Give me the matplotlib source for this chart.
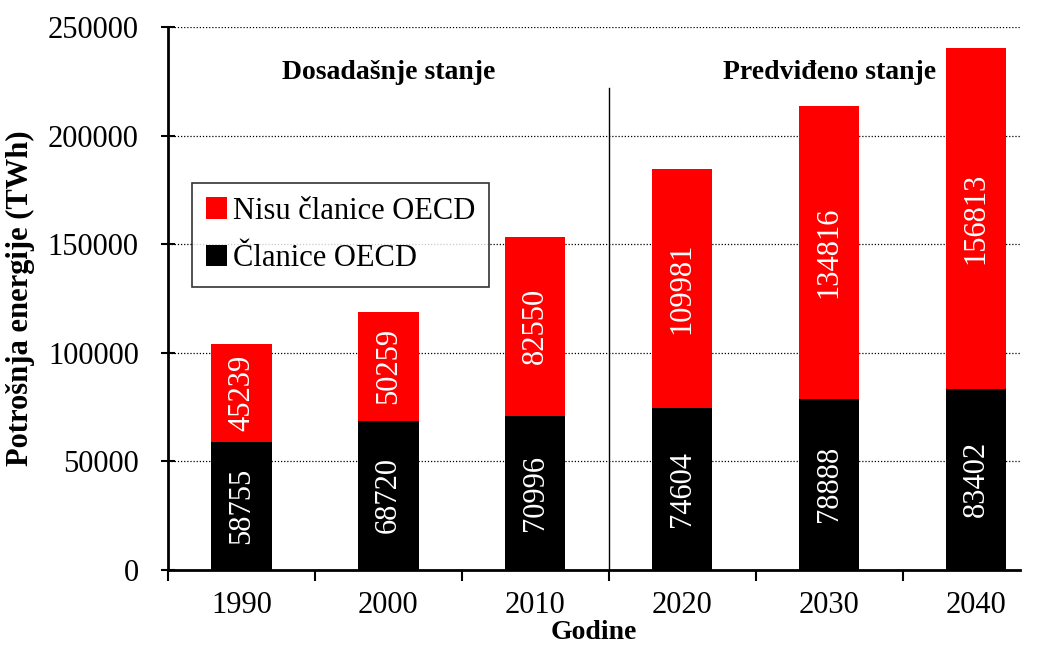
import numpy as np
import matplotlib.pyplot as plt

plt.rcParams['font.family'] = ['Liberation Serif', 'DejaVu Serif']

godine = ['1990', '2000', '2010', '2020', '2030', '2040']
oecd = [58755, 68720, 70996, 74604, 78888, 83402]
ne_oecd = [45239, 50259, 82550, 109981, 134816, 156813]

fig = plt.figure(figsize=(10.4, 6.48), dpi=100)
ax = fig.add_axes([0.1615, 0.1204, 0.8195, 0.8379])

x = np.arange(len(godine))
w = 0.41
b1 = ax.bar(x, oecd, w, color='black', label='Članice OECD')
b2 = ax.bar(x, ne_oecd, w, bottom=oecd, color='#ff0000', label='Nisu članice OECD')

# vrijednosti unutar stupaca
for i in range(len(godine)):
    ax.text(x[i], oecd[i] / 2, str(oecd[i]), rotation=90, color='white',
            ha='center', va='center', fontsize=22)
    ax.text(x[i], oecd[i] + ne_oecd[i] / 2, str(ne_oecd[i]), rotation=90,
            color='white', ha='center', va='center', fontsize=22)

ax.set_xlim(-0.5, 5.3)
ax.set_ylim(0, 250000)
ax.set_yticks(np.arange(0, 250001, 50000))
ax.yaxis.grid(True, linestyle=(0, (1, 1.5)), color='black', linewidth=0.9)
ax.set_axisbelow(True)

ax.set_xticks(x)
ax.set_xticklabels(godine, fontsize=22)
ax.set_xticks(np.arange(-0.5, 5.0, 1.0), minor=True)
ax.tick_params(axis='x', which='major', length=0, pad=15)
ax.tick_params(axis='x', which='minor', length=8, width=1.5, direction='out')
ax.tick_params(axis='y', length=10, width=1.5, direction='inout', labelsize=22, pad=16)

for s in ['top', 'right']:
    ax.spines[s].set_visible(False)
ax.spines['left'].set_linewidth(2)
ax.spines['bottom'].set_linewidth(2)

# razdjelnica
ax.plot([2.5, 2.5], [0, 222000], color='black', linewidth=1)

ax.text(1.0, 229000, 'Dosadašnje stanje', ha='center', va='center',
        fontsize=20, fontweight='bold')
ax.text(4.0, 229000, 'Predviđeno stanje', ha='center', va='center',
        fontsize=20, fontweight='bold')

ax.set_ylabel('Potrošnja energije (TWh)', fontsize=22, fontweight='bold', labelpad=9)
ax.set_xlabel('Godine', fontsize=20, fontweight='bold', labelpad=0)

leg = ax.legend(handles=[b2, b1], loc='upper left', bbox_to_anchor=(0.028, 0.713),
                fontsize=22, frameon=True, fancybox=False, edgecolor='black',
                handlelength=0.7, handleheight=0.7, handletextpad=0.2,
                labelspacing=0.6, borderpad=0.45, borderaxespad=0)
leg.get_frame().set_linewidth(1.2)

fig.savefig('out.png', dpi=100)
